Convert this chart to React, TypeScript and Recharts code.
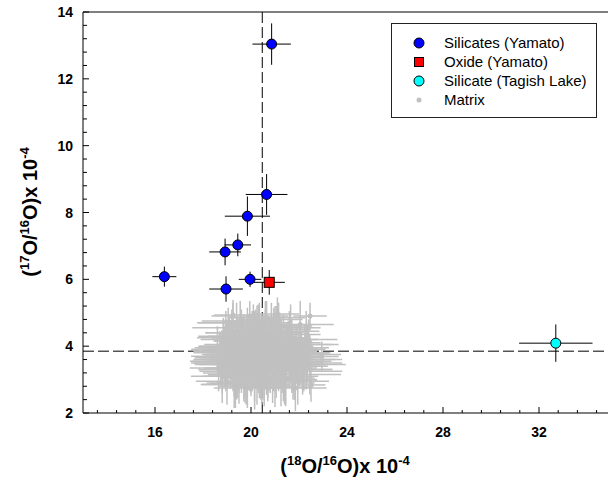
import React from 'react';
import {
  ScatterChart,
  Scatter,
  XAxis,
  YAxis,
  ErrorBar,
  ReferenceLine,
} from 'recharts';

// ---------------------------------------------------------------------------
// Data (values x 10^-4)
// ---------------------------------------------------------------------------
const silicateX = [20.86, 20.65, 19.85, 19.45, 18.92, 16.39, 18.96, 19.96];
const silicateY = [13.04, 8.54, 7.89, 7.03, 6.82, 6.08, 5.71, 6.0];
const silicateEx = [0.8, 0.87, 0.94, 0.55, 0.66, 0.5, 0.7, 0.47];
const silicateEy = [0.62, 0.61, 0.59, 0.34, 0.4, 0.3, 0.38, 0.23];

const oxideX = [20.76];
const oxideY = [5.91];
const oxideEx = [0.65];
const oxideEy = [0.37];

const tagishX = [32.7];
const tagishY = [4.09];
const tagishEx = [1.53];
const tagishEy = [0.56];

const matrixX = [
  19.2, 20.1, 21.3, 19.8, 20.6, 18.9, 21.8, 20.3, 19.5, 20.9,
  21.1, 19.0, 20.4, 22.1, 19.7, 20.8, 18.7, 21.5, 20.0, 19.3,
  20.7, 21.9, 19.6, 20.2, 18.8, 21.2, 20.5, 19.9, 22.3, 19.1,
  20.6, 21.4, 19.4, 20.0, 21.7, 18.9, 20.3, 19.8, 21.0, 20.9,
  19.2, 22.0, 20.4, 19.6, 21.3, 20.1, 18.6, 21.6, 19.9, 20.7,
  20.2, 19.0, 21.8, 20.5, 19.5, 21.1, 22.2, 19.3, 20.8, 20.0,
  19.7, 21.5, 18.8, 20.6, 21.9, 19.4, 20.3, 21.2, 19.1, 20.9,
  21.1, 19.25, 22.46, 22.3, 22.95, 22.5, 20.4, 19.8, 21.0, 20.1,
  20.05, 19.45, 21.05, 20.75, 19.95, 21.45, 20.25, 19.15, 20.55, 21.75,
  19.65, 20.35, 21.15, 18.95, 20.85, 19.75, 21.65, 20.15, 19.35, 20.65,
  21.25, 19.85, 20.45, 22.05, 19.05, 20.95, 21.55, 19.55, 20.25, 21.85,
  18.75, 20.65, 19.95, 21.35, 20.05, 19.25, 21.05, 20.55, 19.75, 22.25,
  20.35, 21.45, 19.45, 20.85, 21.95, 19.15, 20.15, 21.25, 19.65, 20.75,
  21.65, 19.85, 20.45, 18.85, 21.15, 20.05, 19.55, 20.95, 21.75, 19.35,
  20.65, 21.35, 19.95, 20.25, 21.05, 19.05, 20.85, 22.15, 19.75, 20.35,
  21.55, 19.45, 20.55, 21.85, 19.25, 20.15, 20.95, 21.45, 19.65, 20.45,
  18.95, 21.15, 20.75, 19.85, 21.65, 20.05, 19.35, 21.25, 20.65, 19.55,
  22.05, 20.25, 19.15, 21.05, 20.85, 19.95, 21.75, 20.45, 19.75, 21.35,
  18.65, 22.35, 19.05, 21.95, 18.85, 22.15, 19.35, 21.65, 18.75, 22.45,
  19.55, 21.35, 18.95, 22.25, 19.15, 21.85, 18.7, 22.05, 19.45, 21.55,
  20.15, 20.85, 19.75, 21.15, 20.45, 19.25, 21.45, 20.65, 19.85, 21.05,
  18.8, 22.4, 19.6, 21.75, 20.3, 19.0, 22.0, 20.55, 19.4, 21.25,
  20.95, 19.7, 21.6, 18.9, 22.2, 20.1, 19.3, 21.9, 20.7, 19.95,
  21.4, 19.1, 20.35, 22.3, 18.85, 21.0, 20.6, 19.5, 21.7, 20.25,
];
const matrixY = [
  3.6, 4.1, 3.3, 3.9, 3.5, 4.0, 3.7, 4.3, 3.2, 3.8,
  4.4, 3.5, 3.0, 3.9, 4.2, 3.4, 3.8, 4.1, 3.6, 3.1,
  4.0, 3.5, 3.7, 4.5, 3.3, 3.9, 3.2, 4.2, 3.6, 4.0,
  3.8, 3.0, 4.3, 3.4, 4.2, 3.6, 3.9, 2.9, 4.6, 3.5,
  4.4, 3.8, 4.0, 3.3, 3.6, 3.7, 3.9, 3.4, 4.1, 2.95,
  3.5, 4.2, 3.1, 4.4, 3.8, 4.0, 3.3, 3.7, 4.3, 3.2,
  3.6, 4.0, 3.5, 4.7, 3.8, 3.1, 3.4, 4.5, 3.9, 3.0,
  4.96, 4.93, 4.9, 4.55, 3.69, 2.84, 3.7, 4.1, 3.4, 3.85,
  3.45, 3.95, 3.65, 3.25, 4.15, 3.85, 3.55, 3.75, 4.05, 3.35,
  3.85, 3.65, 4.25, 3.45, 3.95, 3.15, 3.75, 4.35, 3.55, 3.35,
  3.65, 4.05, 3.85, 3.45, 3.95, 3.25, 4.05, 3.65, 3.05, 3.75,
  3.55, 4.15, 3.45, 3.85, 4.45, 3.75, 3.35, 3.95, 3.55, 4.05,
  3.25, 3.65, 4.15, 3.95, 3.55, 3.85, 3.05, 4.25, 3.35, 3.65,
  3.95, 3.45, 3.75, 3.65, 4.05, 3.35, 4.25, 3.75, 3.45, 3.95,
  4.25, 3.55, 3.65, 3.95, 3.15, 3.85, 4.05, 3.55, 3.45, 3.75,
  3.85, 4.05, 3.65, 3.95, 3.35, 4.45, 3.45, 3.75, 4.15, 3.55,
  3.75, 3.25, 3.85, 4.35, 3.65, 3.95, 3.55, 4.05, 3.35, 3.85,
  3.95, 3.65, 3.45, 4.15, 3.75, 3.55, 3.85, 3.25, 3.95, 4.25,
  3.35, 3.75, 4.55, 2.95, 3.95, 3.15, 2.85, 4.45, 3.55, 3.45,
  4.75, 3.05, 4.25, 4.05, 3.65, 2.75, 3.85, 4.65, 3.25, 3.95,
  2.8, 4.8, 2.9, 4.6, 2.85, 4.7, 3.0, 4.85, 2.75, 4.5,
  3.1, 4.2, 4.4, 3.3, 4.65, 2.95, 3.6, 2.8, 4.7, 2.9,
  4.55, 3.15, 4.35, 3.7, 3.25, 4.75, 2.85, 3.8, 3.05, 4.9,
  2.95, 4.3, 4.6, 3.5, 3.9, 2.78, 4.4, 2.88, 3.4, 4.62,
];
const matrixEx = [
  1.2, 1.0, 1.3, 1.4, 0.9, 1.1, 1.2, 1.0, 1.5, 1.3,
  1.1, 1.4, 1.2, 1.0, 1.3, 0.9, 1.1, 1.4, 1.2, 1.3,
  1.0, 1.1, 1.5, 1.2, 1.0, 1.3, 1.4, 1.1, 1.5, 1.2,
  1.3, 1.0, 1.2, 1.4, 1.1, 1.3, 0.9, 1.2, 1.0, 1.4,
  1.1, 1.3, 1.5, 1.0, 1.2, 1.4, 1.1, 1.3, 1.0, 1.2,
  1.4, 1.1, 1.0, 1.3, 1.2, 1.5, 1.2, 1.0, 1.1, 1.3,
  1.2, 1.0, 1.3, 1.1, 1.4, 1.2, 1.0, 1.3, 1.1, 1.2,
  0.9, 0.8, 0.7, 0.6, 0.7, 0.6, 1.3, 1.1, 1.2, 1.4,
  1.3, 1.1, 1.2, 1.4, 1.0, 1.2, 1.5, 1.1, 1.3, 1.0,
  1.2, 1.4, 1.1, 1.3, 1.2, 1.0, 1.3, 1.5, 1.2, 1.1,
  1.0, 1.3, 1.2, 1.1, 1.4, 1.2, 1.0, 1.3, 1.5, 1.1,
  1.2, 1.0, 1.4, 1.1, 1.3, 1.2, 1.5, 1.0, 1.2, 1.1,
  1.4, 1.2, 1.0, 1.3, 1.1, 1.2, 1.4, 1.0, 1.3, 1.5,
  1.1, 1.3, 1.2, 1.0, 1.4, 1.1, 1.2, 1.3, 1.0, 1.2,
  1.3, 1.1, 1.5, 1.2, 1.0, 1.4, 1.1, 1.2, 1.3, 1.0,
  1.2, 1.4, 1.1, 1.3, 1.2, 1.0, 1.5, 1.1, 1.2, 1.3,
  1.0, 1.2, 1.4, 1.1, 1.3, 1.2, 1.0, 1.3, 1.1, 1.4,
  1.2, 1.0, 1.3, 1.5, 1.1, 1.2, 1.0, 1.4, 1.2, 1.1,
  1.2, 1.4, 1.5, 1.3, 1.1, 1.6, 1.4, 1.2, 1.3, 1.5,
  1.6, 1.3, 1.2, 1.4, 1.5, 1.3, 1.1, 1.4, 1.6, 1.2,
  1.5, 1.3, 1.6, 1.4, 1.2, 1.5, 1.3, 1.6, 1.4, 1.2,
  1.3, 1.2, 1.5, 1.6, 1.4, 1.3, 1.5, 1.2, 1.6, 1.4,
  1.2, 1.5, 1.3, 1.4, 1.6, 1.2, 1.4, 1.3, 1.5, 1.6,
  1.4, 1.3, 1.2, 1.5, 1.3, 1.6, 1.4, 1.2, 1.5, 1.3,
];
const matrixEy = [
  0.6, 0.5, 0.7, 0.6, 0.8, 0.5, 0.6, 0.7, 0.6, 0.5,
  0.6, 0.7, 0.6, 0.5, 0.7, 0.8, 0.6, 0.5, 0.7, 0.6,
  0.7, 0.5, 0.6, 0.6, 0.7, 0.5, 0.8, 0.6, 0.5, 0.7,
  0.6, 0.7, 0.5, 0.8, 0.6, 0.7, 0.6, 0.65, 0.6, 0.5,
  0.7, 0.6, 0.8, 0.7, 0.5, 0.6, 0.7, 0.6, 0.8, 0.6,
  0.7, 0.6, 0.7, 0.5, 0.6, 0.7, 0.6, 0.8, 0.5, 0.7,
  0.6, 0.7, 0.6, 0.65, 0.6, 0.7, 0.8, 0.5, 0.6, 0.7,
  0.5, 0.45, 0.4, 0.5, 0.45, 0.5, 0.7, 0.6, 0.7, 0.6,
  0.7, 0.6, 0.8, 0.6, 0.5, 0.7, 0.6, 0.8, 0.6, 0.7,
  0.5, 0.7, 0.6, 0.8, 0.6, 0.7, 0.6, 0.5, 0.7, 0.8,
  0.6, 0.7, 0.5, 0.6, 0.8, 0.6, 0.7, 0.6, 0.8, 0.5,
  0.7, 0.6, 0.8, 0.5, 0.6, 0.7, 0.6, 0.8, 0.7, 0.6,
  0.8, 0.6, 0.7, 0.5, 0.6, 0.8, 0.7, 0.6, 0.5, 0.7,
  0.6, 0.8, 0.7, 0.6, 0.5, 0.7, 0.6, 0.8, 0.6, 0.7,
  0.5, 0.7, 0.6, 0.8, 0.7, 0.6, 0.5, 0.7, 0.8, 0.6,
  0.6, 0.7, 0.8, 0.5, 0.7, 0.6, 0.8, 0.6, 0.7, 0.5,
  0.7, 0.6, 0.5, 0.8, 0.6, 0.7, 0.6, 0.5, 0.8, 0.7,
  0.6, 0.8, 0.7, 0.6, 0.5, 0.7, 0.6, 0.8, 0.6, 0.7,
  0.7, 0.8, 0.6, 0.7, 0.9, 0.6, 0.7, 0.8, 0.6, 0.9,
  0.6, 0.7, 0.8, 0.6, 0.9, 0.7, 0.6, 0.7, 0.8, 0.6,
  0.7, 0.5, 0.6, 0.7, 0.6, 0.6, 0.8, 0.5, 0.6, 0.7,
  0.8, 0.6, 0.7, 0.9, 0.6, 0.7, 0.8, 0.6, 0.6, 0.7,
  0.6, 0.8, 0.7, 0.9, 0.6, 0.5, 0.7, 0.8, 0.6, 0.45,
  0.7, 0.6, 0.7, 0.8, 0.9, 0.6, 0.7, 0.6, 0.8, 0.6,
];

const xTicks = [
  13.6, 14.4, 15.2, 16, 16.8, 17.6, 18.4, 19.2, 20, 20.8, 21.6, 22.4, 23.2, 24,
  24.8, 25.6, 26.4, 27.2, 28, 28.8, 29.6, 30.4, 31.2, 32, 32.8, 33.6, 34.4,
];
const xLabels = [16, 20, 24, 28, 32];
const yTicks = [
  2, 2.4, 2.8, 3.2, 3.6, 4, 4.4, 4.8, 5.2, 5.6, 6, 6.4, 6.8, 7.2, 7.6, 8,
  8.4, 8.8, 9.2, 9.6, 10, 10.4, 10.8, 11.2, 11.6, 12, 12.4, 12.8, 13.2, 13.6, 14,
];
const yLabels = [2, 4, 6, 8, 10, 12, 14];

// dashed guide lines (bulk values)
const guideV = [{ x: 20.47, y: 2 }, { x: 20.47, y: 14 }];
const guideH = [{ x: 13, y: 3.85 }, { x: 34.875, y: 3.85 }];

// ---------------------------------------------------------------------------
// Helpers
// ---------------------------------------------------------------------------
const zip = (xs: number[], ys: number[], exs: number[], eys: number[]) =>
  xs.map((x, i) => ({ x, y: ys[i], ex: exs[i], ey: eys[i] }));

const silicates = zip(silicateX, silicateY, silicateEx, silicateEy);
const oxide = zip(oxideX, oxideY, oxideEx, oxideEy);
const tagish = zip(tagishX, tagishY, tagishEx, tagishEy);
const matrix = zip(matrixX, matrixY, matrixEx, matrixEy);

const FONT = '"Liberation Sans", Arial, sans-serif';
const isLabel = (list: number[], v: number) => list.some((l) => Math.abs(l - v) < 1e-6);

const XTick = (props: any) => {
  const { x, y, payload } = props;
  const major = isLabel(xLabels, payload.value);
  return (
    <g>
      <line x1={x} x2={x} y1={y} y2={y - (major ? 6 : 3)} stroke="#000" />
      {major && (
        <text x={x} y={y + 24} textAnchor="middle" fontFamily={FONT} fontWeight="bold" fontSize={14} fill="#000">
          {payload.value}
        </text>
      )}
    </g>
  );
};

const YTick = (props: any) => {
  const { x, y, payload } = props;
  const major = isLabel(yLabels, payload.value);
  return (
    <g>
      <line x1={x} x2={x + (major ? 6 : 4)} y1={y} y2={y} stroke="#000" />
      {major && (
        <text x={x - 10} y={y + 5} textAnchor="end" fontFamily={FONT} fontWeight="bold" fontSize={14} fill="#000">
          {payload.value}
        </text>
      )}
    </g>
  );
};

const circleShape = (fill: string, r: number, stroke?: string) => (p: any) => (
  <circle cx={p.cx} cy={p.cy} r={r} fill={fill} stroke={stroke || 'none'} strokeWidth={1} />
);
const squareShape = (p: any) => (
  <rect x={p.cx - 5} y={p.cy - 5} width={10} height={10} fill="#ff0000" stroke="#000" strokeWidth={1} />
);
const noShape = () => <g />;

const legendRows = [
  { label: 'Silicates (Yamato)', kind: 'circle', fill: '#0000ff' },
  { label: 'Oxide (Yamato)', kind: 'square', fill: '#ff0000' },
  { label: 'Silicate (Tagish Lake)', kind: 'circle', fill: '#00ffff' },
  { label: 'Matrix', kind: 'dot', fill: '#c0c0c0' },
];

const guideProps: any = { zIndex: -10 };

// ---------------------------------------------------------------------------
// Component
// ---------------------------------------------------------------------------
export default function App() {
  return (
    <div style={{ position: 'absolute', left: 0, top: 0, width: 608, height: 480, background: '#fff' }}>
      <ScatterChart width={608} height={480} margin={{ top: 12, right: 0, bottom: 37, left: 53 }}>
        <XAxis
          type="number"
          dataKey="x"
          domain={[13, 34.875]}
          ticks={xTicks}
          interval={0}
          height={30}
          tickSize={0}
          tickMargin={0}
          tickLine={false}
          tick={<XTick />}
          axisLine={{ stroke: '#000' }}
          allowDataOverflow
        />
        <YAxis
          type="number"
          dataKey="y"
          domain={[2, 14]}
          ticks={yTicks}
          interval={0}
          width={30}
          tickSize={0}
          tickMargin={0}
          tickLine={false}
          tick={<YTick />}
          axisLine={{ stroke: '#000' }}
          allowDataOverflow
        />
        <ReferenceLine y={14} stroke="#000" />

        <Scatter
          data={guideV}
          isAnimationActive={false}
          shape={noShape}
          line={{ stroke: '#000', strokeDasharray: '11 4' }}
          {...guideProps}
        />
        <Scatter
          data={guideH}
          isAnimationActive={false}
          shape={noShape}
          line={{ stroke: '#000', strokeDasharray: '11 4' }}
          {...guideProps}
        />

        <Scatter data={matrix} isAnimationActive={false} shape={circleShape('#c0c0c0', 2.5)}>
          <ErrorBar dataKey="ex" direction="x" width={0} stroke="#c0c0c0" strokeWidth={1.5} />
          <ErrorBar dataKey="ey" direction="y" width={0} stroke="#c0c0c0" strokeWidth={1.5} />
        </Scatter>

        <Scatter data={silicates} isAnimationActive={false} shape={circleShape('#0000ff', 5, '#000')}>
          <ErrorBar dataKey="ex" direction="x" width={0} stroke="#000" strokeWidth={1} />
          <ErrorBar dataKey="ey" direction="y" width={0} stroke="#000" strokeWidth={1} />
        </Scatter>
        <Scatter data={oxide} isAnimationActive={false} shape={squareShape}>
          <ErrorBar dataKey="ex" direction="x" width={0} stroke="#000" strokeWidth={1} />
          <ErrorBar dataKey="ey" direction="y" width={0} stroke="#000" strokeWidth={1} />
        </Scatter>
        <Scatter data={tagish} isAnimationActive={false} shape={circleShape('#00ffff', 5, '#000')}>
          <ErrorBar dataKey="ex" direction="x" width={0} stroke="#000" strokeWidth={1} />
          <ErrorBar dataKey="ey" direction="y" width={0} stroke="#000" strokeWidth={1} />
        </Scatter>
      </ScatterChart>

      {/* axis titles */}
      <svg width={608} height={480} style={{ position: 'absolute', left: 0, top: 0, pointerEvents: 'none' }}>
        <text x={345} y={473} textAnchor="middle" fontFamily={FONT} fontWeight="bold" fontSize={20} fill="#000">
          (<tspan fontSize={13} dy={-8}>18</tspan>
          <tspan dy={8}>O/</tspan>
          <tspan fontSize={13} dy={-8}>16</tspan>
          <tspan dy={8}>O)x 10</tspan>
          <tspan fontSize={13} dy={-8}>-4</tspan>
        </text>
        <text
          x={0}
          y={0}
          transform="translate(37,212) rotate(-90)"
          textAnchor="middle"
          fontFamily={FONT}
          fontWeight="bold"
          fontSize={20}
          fill="#000"
        >
          (<tspan fontSize={13} dy={-8}>17</tspan>
          <tspan dy={8}>O/</tspan>
          <tspan fontSize={13} dy={-8}>16</tspan>
          <tspan dy={8}>O)x 10</tspan>
          <tspan fontSize={13} dy={-8}>-4</tspan>
        </text>
      </svg>

      {/* legend */}
      <div
        style={{
          position: 'absolute',
          left: 391,
          top: 23,
          width: 206,
          height: 95,
          border: '1px solid #222',
          fontFamily: FONT,
          fontSize: 15,
          color: '#000',
          paddingTop: 9,
          boxSizing: 'border-box',
        }}
      >
        {legendRows.map((r) => (
          <div key={r.label} style={{ display: 'flex', alignItems: 'center', height: 19 }}>
            <svg width={52} height={19}>
              {r.kind === 'circle' && <circle cx={27} cy={10} r={5} fill={r.fill} stroke="#000" />}
              {r.kind === 'square' && <rect x={22.5} y={5.5} width={9} height={9} fill={r.fill} stroke="#000" />}
              {r.kind === 'dot' && <circle cx={27} cy={10} r={2.5} fill={r.fill} />}
            </svg>
            <span>{r.label}</span>
          </div>
        ))}
      </div>
    </div>
  );
}
